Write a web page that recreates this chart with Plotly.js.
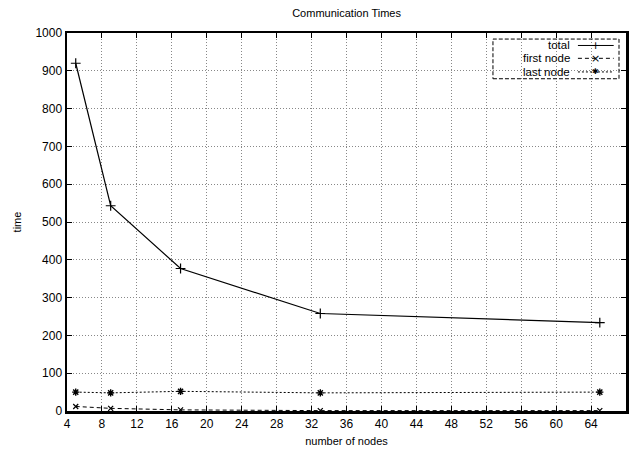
<!DOCTYPE html>
<html><head><meta charset="utf-8">
<script src="https://cdn.plot.ly/plotly-3.0.1.min.js"></script>
<style>body{margin:0;padding:0;background:#fff}#chart{width:629px;height:450px}</style>
</head><body><div id="chart"></div>
<script>
var nodes = [5, 9, 17, 33, 65];
var totalTimes = [920, 543, 377, 258, 234];
var firstNodeTimes = [12, 7, 3, 1, 1];
var lastNodeTimes = [50, 48, 52, 48, 50];
var seriesNames = ['total', 'first node', 'last node'];
var xTicks = [4,8,12,16,20,24,28,32,36,40,44,48,52,56,60,64,68];
var yTicks = [0,100,200,300,400,500,600,700,800,900,1000];

var font = 'Liberation Sans, Arial, sans-serif';
var traces = [
  {x: nodes, y: totalTimes, name: seriesNames[0], mode: 'lines+markers',
   line: {color: '#000', width: 1.2, dash: 'solid'},
   marker: {symbol: 'cross-thin-open', size: 7, color: '#000', line: {width: 1.2, color: '#000'}}},
  {x: nodes, y: firstNodeTimes, name: seriesNames[1], mode: 'lines+markers',
   line: {color: '#000', width: 1, dash: '4px,3px'},
   marker: {symbol: 'x-thin-open', size: 5, color: '#000', line: {width: 1.2, color: '#000'}}},
  {x: nodes, y: lastNodeTimes, name: seriesNames[2], mode: 'lines+markers',
   line: {color: '#000', width: 1, dash: '2px,2px'},
   marker: {symbol: 'asterisk-open', size: 6, color: '#000', line: {width: 1.4, color: '#000'}}}
];

// custom gnuplot-style legend (text left, sample right)
var shapes = [
  {type:'rect', xref:'paper', yref:'paper', x0:0.762, x1:0.9875, y0:0.879, y1:0.984,
   line:{color:'#000', width:1, dash:'4px,2px'}, fillcolor:'rgba(255,255,255,0)'}
];
var annotations = [];
var legendRows = [0.967, 0.933, 0.897];
var dashes = ['solid', '4px,3px', '2px,2px'];
var glyphs = ['+', '×', '✱'];
for (var i = 0; i < 3; i++) {
  annotations.push({xref:'paper', yref:'paper', x:0.902, y:legendRows[i], xanchor:'right', yanchor:'middle',
    text: seriesNames[i], showarrow:false, font:{family:font, size:11.5, color:'#000'}, borderpad:0});
  shapes.push({type:'line', xref:'paper', yref:'paper', x0:0.914, x1:0.978, y0:legendRows[i], y1:legendRows[i],
    line:{color:'#000', width:1, dash:dashes[i]}});
  annotations.push({xref:'paper', yref:'paper', x:0.946, y:legendRows[i], xanchor:'center', yanchor:'middle',
    text: glyphs[i], showarrow:false, font:{family:'DejaVu Sans', size: i==2?8:11, color:'#000'}, borderpad:0});
}

var layout = {
  width: 629, height: 450,
  margin: {l: 67, r: 3, t: 33, b: 39},
  paper_bgcolor: '#fff', plot_bgcolor: '#fff',
  showlegend: false,
  font: {family: font, size: 12, color: '#000'},
  title: {text: 'Communication Times', x: 0.551, xanchor: 'center', y: 0.97, yanchor: 'middle', font: {family: font, size: 11, color: '#000'}},
  xaxis: {range: [4, 68], tickvals: xTicks, ticktext: xTicks.map(String), ticks: 'inside', ticklen: 5, tickcolor: '#000',
    showline: true, linecolor: '#000', linewidth: 2.5, mirror: 'ticks', zeroline: false,
    showgrid: true, gridcolor: '#888', griddash: '1px,2px', gridwidth: 1,
    title: {text: 'number of nodes', font: {family: font, size: 11}, standoff: 8},
    tickfont: {family: font, size: 12}},
  yaxis: {range: [0, 1000], tickvals: yTicks, ticktext: yTicks.map(String), ticks: 'inside', ticklen: 5, tickcolor: '#000',
    showline: true, linecolor: '#000', linewidth: 2.5, mirror: 'ticks', zeroline: false,
    showgrid: true, gridcolor: '#888', griddash: '1px,2px', gridwidth: 1,
    title: {text: 'time', font: {family: font, size: 11}, standoff: 12},
    tickfont: {family: font, size: 12}},
  shapes: shapes,
  annotations: annotations
};
Plotly.newPlot('chart', traces, layout, {displayModeBar: false, staticPlot: true});
</script></body></html>
